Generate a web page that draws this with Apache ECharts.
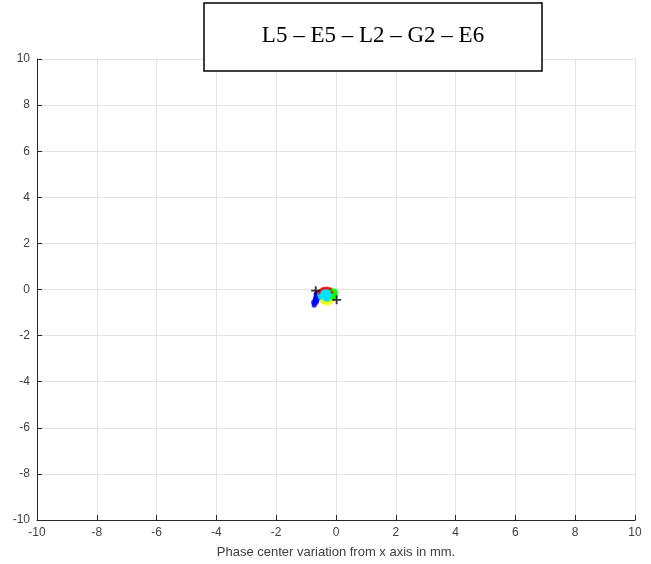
<!DOCTYPE html>
<html><head><meta charset="utf-8">
<script src="https://cdn.jsdelivr.net/npm/echarts@6/dist/echarts.min.js"></script>
<style>html,body{margin:0;padding:0;background:#fff;}#c{width:651px;height:564px;}</style>
</head><body><div id="c"></div>
<script>
const titleText = "L5 – E5 – L2 – G2 – E6";
const xAxisName = "Phase center variation from x axis in mm.";
const axisMin = -10, axisMax = 10, axisStep = 2;

const bluePts = [[-0.75,-0.55],[-0.72,-0.62],[-0.7,-0.45],[-0.68,-0.35],[-0.65,-0.3],[-0.62,-0.4],[-0.7,-0.5],[-0.66,-0.55],[-0.6,-0.25],[-0.73,-0.68],[-0.64,-0.48],[-0.58,-0.35],[-0.67,-0.2],[-0.62,-0.15]];
const cyanPts = [[-0.48,-0.12],[-0.4,-0.07],[-0.3,-0.07],[-0.22,-0.12],[-0.45,-0.25],[-0.35,-0.2],[-0.25,-0.22],[-0.48,-0.35],[-0.4,-0.4],[-0.3,-0.35],[-0.22,-0.3],[-0.4,-0.48],[-0.32,-0.46],[-0.52,-0.22],[-0.25,-0.4]];
const greenPts = [[-0.15,-0.02],[-0.1,-0.1],[-0.05,-0.2],[-0.08,-0.3],[-0.12,-0.4],[-0.04,-0.06],[-0.02,-0.15],[-0.03,-0.28]];
const yellowPts = [[-0.35,-0.6],[-0.28,-0.63],[-0.2,-0.57],[-0.42,-0.57],[-0.15,-0.5],[-0.47,-0.5]];
const redPts = [[-0.57,-0.15],[-0.52,-0.02],[-0.42,0.05],[-0.3,0.07],[-0.18,0.02],[-0.13,-0.12],[-0.36,0.07],[-0.47,0.02],[-0.24,0.05],[-0.55,-0.08]];
const blackPts = [[-0.68,-0.05],[0.02,-0.45]];

const plus = 'path://M4,0 L6,0 L6,4 L10,4 L10,6 L6,6 L6,10 L4,10 L4,6 L0,6 L0,4 L4,4 Z';

const chart = echarts.init(document.getElementById('c'));
const lbl = {color:'#404040', fontSize:12, fontFamily:'Liberation Sans, Arial', margin:7};
function axis(extra){
  return Object.assign({
    type:'value', min:axisMin, max:axisMax, interval:axisStep,
    axisLine:{show:true, onZero:false, lineStyle:{color:'#262626', width:1}},
    axisTick:{show:true, inside:true, length:5, lineStyle:{color:'#262626'}},
    splitLine:{show:true, lineStyle:{color:'#e3e3e3', width:1}},
    axisLabel:lbl
  }, extra);
}
chart.setOption({
  animation:false,
  backgroundColor:'#fff',
  grid:{left:37, right:16, top:59, bottom:43, containLabel:false},
  xAxis:axis({
    name:xAxisName, nameLocation:'middle', nameGap:26,
    nameTextStyle:{color:'#404040', fontSize:13, fontFamily:'Liberation Sans, Arial'}
  }),
  yAxis:axis({}),
  series:[
    {type:'scatter', data:bluePts, symbol:'circle', symbolSize:5, itemStyle:{color:'#0000ff'}},
    {type:'scatter', data:cyanPts, symbol:'circle', symbolSize:7, itemStyle:{color:'#00e5ff'}},
    {type:'scatter', data:greenPts, symbol:'circle', symbolSize:5, itemStyle:{color:'#00ff00'}},
    {type:'scatter', data:yellowPts, symbol:'circle', symbolSize:4, itemStyle:{color:'#ffff00'}},
    {type:'scatter', data:redPts, symbol:'circle', symbolSize:3, itemStyle:{color:'#ff0000'}},
    {type:'scatter', data:blackPts, symbol:plus, symbolSize:9, itemStyle:{color:'#000'}}
  ],
  graphic:[
    {type:'rect', shape:{x:204, y:3, width:338, height:68}, style:{fill:'#fff', stroke:'#000', lineWidth:1.5}, z:100},
    {type:'text', x:373, y:36, style:{text:titleText, fill:'#000', fontSize:23, fontFamily:'Liberation Serif', align:'center', verticalAlign:'middle'}, z:101}
  ]
});
</script></body></html>
